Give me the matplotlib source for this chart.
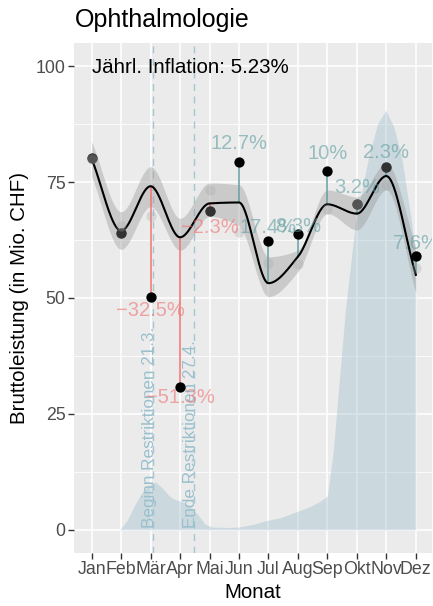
import numpy as np
import matplotlib.pyplot as plt

plt.rcParams['font.family'] = ['Liberation Sans', 'DejaVu Sans']

months = ["Jan", "Feb", "Mär", "Apr", "Mai", "Jun", "Jul", "Aug", "Sep", "Okt", "Nov", "Dez"]
month_num = np.arange(1, 13)

# Bruttoleistung aktuelles Jahr (Mio. CHF)
current = [80.2, 64.0, 50.2, 30.8, 68.8, 79.3, 62.3, 63.7, 77.3, 70.3, 78.2, 59.0]
# Vorjahreswerte (grau)
prev_a = [80.2, 65.5, 67.7, np.nan, 73.4, 64.3, 57.5, 57.3, 69.3, 70.3, 74.4, 56.4]
prev_b = [80.0, 64.0, np.nan, np.nan, 68.8, np.nan, np.nan, np.nan, np.nan, 70.3, 78.2, np.nan]
# geglaettete Referenz mit Band
reference = [80.0, 64.5, 74.1, 63.1, 70.4, 70.6, 53.2, 58.9, 70.2, 68.2, 76.3, 55.0]
ref_low = [76.2, 60.5, 69.7, 60.3, 67.6, 65.5, 50.3, 55.7, 68.2, 64.7, 73.3, 51.0]
ref_high = [83.7, 68.6, 78.3, 67.2, 74.8, 74.4, 58.9, 60.3, 73.3, 71.8, 79.0, 61.1]
# Veraenderung in %
pct_change = [None, None, -32.5, -51.3, -2.3, 12.7, 17.4, 8.3, 10, 3.2, 2.3, 7.6]

# Fallzahlen (skaliert), Position in Monaten
cases_x = [1.0, 1.95, 2.2, 2.45, 2.75, 3.0, 3.16, 3.4, 3.6, 3.8, 4.1, 4.35, 4.6, 4.85, 5.1,
           5.6, 6.0, 6.5, 6.93, 7.4, 7.95, 8.4, 8.74, 9.0, 9.2, 9.61, 9.95, 10.4, 10.7,
           10.98, 11.25, 11.52, 11.86, 12.0]
cases_y = [0, 0, 2.0, 5.2, 8.5, 10.0, 10.3, 9.0, 7.5, 6.6, 6.0, 5.0, 3.3, 1.2, 0.6,
           0.5, 0.6, 1.2, 2.0, 2.6, 3.9, 5.0, 6.1, 7.3, 17.0, 47.4, 66.2, 80.4, 87.5,
           90.5, 87.0, 80.4, 66.2, 58.0]

restrictions = [3.07, 4.46]
restriction_labels = ["Beginn Restriktionen 21.3.", "Ende Restriktionen 27.4."]
inflation_text = "Jährl. Inflation: 5.23%"


def pchip(x, y, xs):
    x = np.asarray(x, float)
    y = np.asarray(y, float)
    h = np.diff(x)
    d = np.diff(y) / h
    m = np.zeros_like(y)
    for k in range(1, len(y) - 1):
        if d[k - 1] * d[k] > 0:
            w1 = 2 * h[k] + h[k - 1]
            w2 = h[k] + 2 * h[k - 1]
            m[k] = (w1 + w2) / (w1 / d[k - 1] + w2 / d[k])
    m[0] = d[0]
    m[-1] = d[-1]
    i = np.clip(np.searchsorted(x, xs) - 1, 0, len(h) - 1)
    t = (xs - x[i]) / h[i]
    h00 = 2 * t**3 - 3 * t**2 + 1
    h10 = t**3 - 2 * t**2 + t
    h01 = -2 * t**3 + 3 * t**2
    h11 = t**3 - t**2
    return h00 * y[i] + h10 * h[i] * m[i] + h01 * y[i + 1] + h11 * h[i] * m[i + 1]


fig = plt.figure(figsize=(4.33, 6.06), dpi=100)
ax = fig.add_axes([74 / 433, 53 / 606, 358 / 433, 510 / 606])
ax.set_facecolor('#EBEBEB')
for s in ax.spines.values():
    s.set_visible(False)

ax.set_xlim(0.40, 12.55)
ax.set_ylim(-5, 105)
ax.set_xticks(month_num)
ax.set_xticklabels(months)
ax.set_yticks([0, 25, 50, 75, 100])
ax.set_yticks([12.5, 37.5, 62.5, 87.5], minor=True)
ax.set_axisbelow(True)
ax.grid(which='major', color='white', lw=1.1)
ax.grid(which='minor', axis='y', color='white', lw=0.55)
ax.tick_params(which='major', length=4, width=1, color='#333333', labelcolor='#4D4D4D',
               labelsize=12.8, pad=2)
ax.tick_params(which='minor', length=0)

# Fallzahlen als Flaeche
ax.fill_between(cases_x, 0, cases_y, color='#8AB2C2', alpha=0.32, lw=0, zorder=1)

# Restriktionen
for xr, lab in zip(restrictions, restriction_labels):
    ax.axvline(xr, color='#9AC0CD', lw=1.0, ls=(0, (5, 4)), alpha=0.85, zorder=1.5)
    ax.text(xr - 0.1, 0.4, lab, rotation=90, ha='center', va='bottom', fontsize=12.3,
            color='#9AC0CD', zorder=1.6)

# Referenzkurve mit Band
xs = np.linspace(1, 12, 400)
ax.fill_between(xs, pchip(month_num, ref_low, xs), pchip(month_num, ref_high, xs),
                color='#999999', alpha=0.4, lw=0, zorder=2)

# Segmente Referenz -> aktueller Wert
for mx, ref, cur, p in zip(month_num, reference, current, pct_change):
    if p is None:
        continue
    col = '#F07070' if p < 0 else '#5F9EA0'
    ax.plot([mx, mx], [ref, cur], color=col, lw=1.1, zorder=3)

ax.plot(xs, pchip(month_num, reference, xs), color='black', lw=1.5, zorder=4)

ax.scatter(month_num, current, s=55, color='black', lw=0, zorder=5)
ax.scatter(month_num, prev_a, s=55, color='#A6A6A6', alpha=0.3, lw=0, zorder=6)
ax.scatter(month_num, prev_b, s=55, color='#A6A6A6', alpha=0.3, lw=0, zorder=6)

# Prozent-Labels
offsets = [0, 0, -13, -10, -17, 19, 13, 8, 18, 16, 15, 13]
for mx, cur, p, off in zip(month_num, current, pct_change, offsets):
    if p is None:
        continue
    col = '#F07070' if p < 0 else '#5F9EA0'
    txt = f"{p:g}%".replace("-", "\u2212")
    ax.annotate(txt, (mx, cur), xytext=(0, off), textcoords='offset pixels',
                ha='center', va='center', fontsize=14.5, color=col, alpha=0.6,
                zorder=7, annotation_clip=False, clip_on=True)

ax.text(1, 98.5, inflation_text, ha='left', va='baseline', fontsize=14.8, color='black', zorder=8)

ax.set_xlabel("Monat", fontsize=14.8)
ax.set_ylabel("Bruttoleistung (in Mio. CHF)", fontsize=14.8)
ax.xaxis.set_label_coords((253 - 74) / 358, (606 - 592 - 53) / 510)
ax.xaxis.label.set_va('center')
ax.yaxis.set_label_coords((20 - 74) / 358, 0.5)
ax.yaxis.label.set_va('center')

fig.text(75 / 433, 1 - 27 / 606, "Ophthalmologie", fontsize=18, va='baseline', ha='left')

fig.savefig("out.png", dpi=100)
